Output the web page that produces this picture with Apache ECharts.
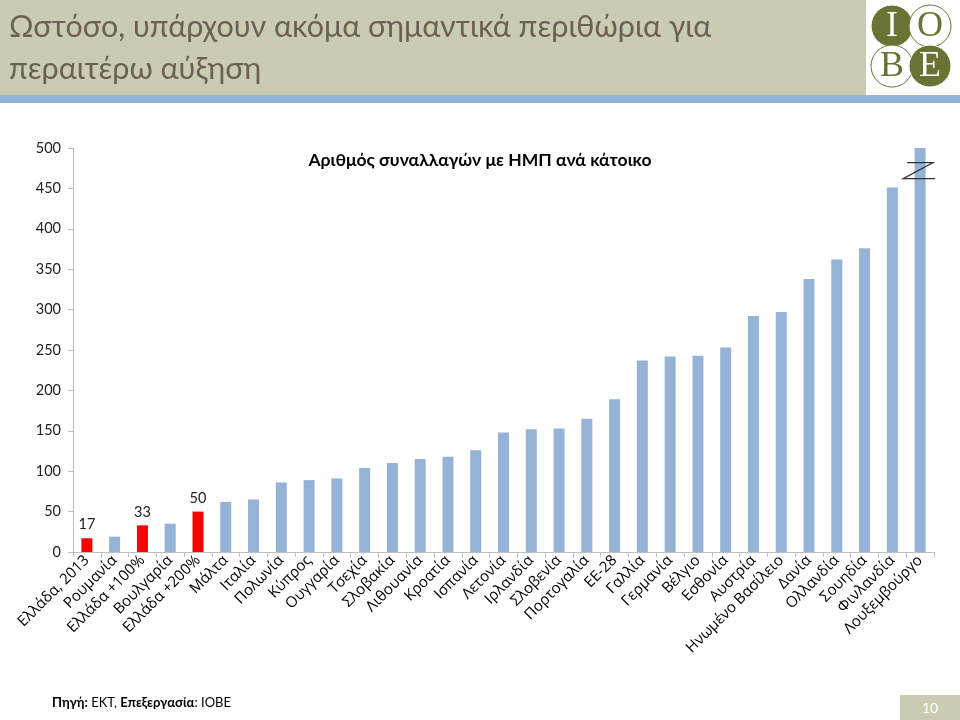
<!DOCTYPE html>
<html>
<head>
<meta charset="utf-8">
<script src="https://cdn.jsdelivr.net/npm/echarts@6/dist/echarts.min.js"></script>
<style>html,body{margin:0;padding:0;background:#fff}#c{width:960px;height:720px}</style>
</head>
<body>
<div id="c"></div>
<script>
const categories = ['Ελλάδα, 2013','Ρουμανία','Ελλάδα +100%','Βουλγαρία','Ελλάδα +200%','Μάλτα','Ιταλία','Πολωνία','Κύπρος','Ουγγαρία','Τσεχία','Σλοβακία','Λιθουανία','Κροατία','Ισπανία','Λετονία','Ιρλανδία','Σλοβενία','Πορτογαλία','ΕΕ-28','Γαλλία','Γερμανία','Βέλγιο','Εσθονία','Αυστρία','Ηνωμένο Βασίλειο','Δανία','Ολλανδία','Σουηδία','Φινλανδία','Λουξεμβούργο'];
const values = [17,19,33,35,50,62,65,86,89,91,104,110,115,118,126,148,152,153,165,189,237,242,243,253,292,297,338,362,376,451,500];
const highlighted = ['Ελλάδα, 2013','Ελλάδα +100%','Ελλάδα +200%'];
const yTicks = {min:0, max:500, interval:50};
const chartTitle = 'Αριθμός συναλλαγών με ΗΜΠ ανά κάτοικο';
const pageTitle = ['Ωστόσο, υπάρχουν ακόμα σημαντικά περιθώρια για','περαιτέρω αύξηση'];
const breakRange = [462, 482];
</script>
<script>
const chart = echarts.init(document.getElementById('c'), null, {renderer:'canvas'});
const RED = '#ff0000', BLUE = '#95b3d7', OLIVE = '#6b7334';
const data = values.map((v,i)=>{
  const hi = highlighted.includes(categories[i]);
  return {
    value: v,
    itemStyle: {color: hi ? RED : BLUE},
    label: {show: hi}
  };
});
const option = {
  animation: false,
  backgroundColor: '#fff',
  title: {
    text: chartTitle, left: 'center', top: 146,
    textStyle: {fontFamily: 'Lato', fontWeight: 'bold', fontSize: 17.5, color: '#000'}
  },
  grid: {left: 73, right: 26, top: 148, bottom: 168, containLabel: false},
  xAxis: {
    type: 'category', data: categories,
    axisLine: {lineStyle: {color: '#bfbfbf'}},
    axisTick: {show: true, length: 5, lineStyle: {color: '#bfbfbf'}},
    axisLabel: {interval: 0, rotate: 45, fontFamily: 'Open Sans', fontSize: 15, color: '#000', margin: 6}
  },
  yAxis: {
    type: 'value', min: yTicks.min, max: yTicks.max, interval: yTicks.interval,
    axisLine: {show: true, lineStyle: {color: '#bfbfbf'}},
    axisTick: {show: true, length: 5, lineStyle: {color: '#bfbfbf'}},
    splitLine: {show: false},
    axisLabel: {fontFamily: 'Lato', fontSize: 14.5, color: '#222', margin: 12}
  },
  series: [{
    type: 'bar', data: data, barWidth: 11,
    label: {position: 'top', distance: 6, fontFamily: 'Lato', fontSize: 14.5, color: '#222'}
  }],
  graphic: [
    {type:'rect', shape:{x:0,y:0,width:960,height:95}, style:{fill:'#c9cbb3'}, z:-1},
    {type:'rect', shape:{x:0,y:95,width:960,height:8}, style:{fill:'#95b3d7'}, z:-1},
    {type:'rect', shape:{x:866,y:0,width:94,height:95}, style:{fill:'#ffffff'}},
    {type:'text', left:9, top:12, style:{text: pageTitle[0], fontFamily:'Lato', fontSize:30.5, fill:'#6e5f55'}},
    {type:'text', left:9, top:54, style:{text: pageTitle[1], fontFamily:'Lato', fontSize:30.5, fill:'#6e5f55'}},
    // logo
    {type:'circle', shape:{cx:892,cy:26,r:21}, style:{fill:OLIVE, stroke:'#fff', lineWidth:1}},
    {type:'circle', shape:{cx:930,cy:26,r:21}, style:{fill:'#fff', stroke:OLIVE, lineWidth:1}},
    {type:'circle', shape:{cx:892,cy:66,r:21}, style:{fill:'#fff', stroke:OLIVE, lineWidth:1}},
    {type:'circle', shape:{cx:930,cy:66,r:21}, style:{fill:OLIVE, stroke:'#fff', lineWidth:1}},
    {type:'text', style:{x:892,y:27,text:'I',align:'center',verticalAlign:'middle',fontFamily:'Liberation Serif',fontSize:36,fill:'#fff'}},
    {type:'text', style:{x:930,y:27,text:'O',align:'center',verticalAlign:'middle',fontFamily:'Liberation Serif',fontSize:36,fill:OLIVE}},
    {type:'text', style:{x:892,y:67,text:'B',align:'center',verticalAlign:'middle',fontFamily:'Liberation Serif',fontSize:36,fill:OLIVE}},
    {type:'text', style:{x:930,y:67,text:'E',align:'center',verticalAlign:'middle',fontFamily:'Liberation Serif',fontSize:36,fill:'#fff'}},
    // footer
    {type:'text', left:52, top:696, style:{
      text:'{b|Πηγή:} ΕΚΤ, {b|Επεξεργασία}: ΙΟΒΕ',
      fontFamily:'Lato', fontSize:13, fill:'#000',
      rich:{b:{fontFamily:'Lato', fontWeight:'bold', fontSize:13, fill:'#000'}}
    }},
    {type:'rect', shape:{x:900,y:695,width:60,height:25}, style:{fill:'#c9cbb3'}},
    {type:'text', style:{x:930,y:708,text:'10',align:'center',verticalAlign:'middle',fontFamily:'Lato',fontSize:14,fill:'#fff'}}
  ]
};
chart.setOption(option);
// axis-break marker on the clipped last bar
const last = categories.length - 1;
const pTop = chart.convertToPixel({gridIndex:0}, [last, breakRange[1]]);
const pBot = chart.convertToPixel({gridIndex:0}, [last, breakRange[0]]);
const cx = pTop[0];
chart.setOption({graphic: option.graphic.concat([
  {type:'polyline', shape:{points:[[cx-13,pTop[1]],[cx+13,pTop[1]],[cx-17,pBot[1]],[cx+15,pBot[1]]]},
   style:{stroke:'#333', lineWidth:1.2, fill:null}, z:10}
])});
</script>
</body>
</html>
